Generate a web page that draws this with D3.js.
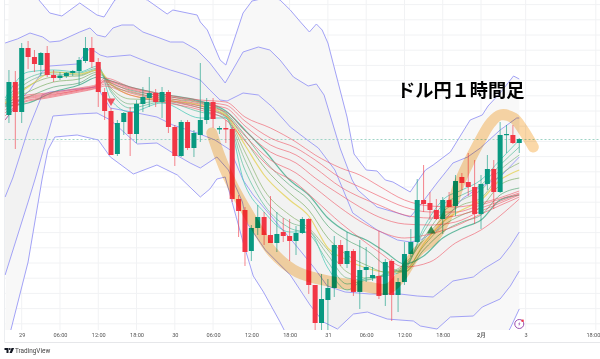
<!DOCTYPE html>
<html><head><meta charset="utf-8">
<script src="https://cdn.jsdelivr.net/npm/d3@7/dist/d3.min.js"></script>
<style>html,body{margin:0;padding:0;background:#fff}svg{display:block}</style>
</head><body><svg id="c" width="600" height="359"></svg>
<script>
// hours counted from the "29" tick; price in chart points above the plot floor
const hours = [-2,-1,0,1,2,3,4,5,6,7,8,9,10,11,12,13,14,15,16,17,18,19,20,21,22,23,24,25,26,27,28,29,30,31,32,33,34,35,36,37,38,39,40,41,42,43,44,45,46,47,48,49,50,51,52,53,54,55,56,57,58,59,60,61,62,63,64,65,66,67,68,69,70,71,72,73,74,75,76,77,78];
const opens = [215,248,218,282,273,265,277,255,252,254,257,259,269,282,268,238,219,176,208,218,196,226,232,237,228,238,203,174,208,182,195,210,228,200.5,202,201,131,120,79,102,113,95,87,98,94,89,97,111,45,7,30,42,85,66,79,38,60,52,54,35,69,35,48,76,88,130,127,120,111,130,124,153,148,143,116,146,161,138,195,195,187];
const closes = [248,218,282,273,266,277,255,252,254.5,257,259,270,282,268,238,219,175,207,217,196,226,233,237,228,238,203,174,208,182,197,210,228,211,202,200.5,131,119,78,102,113,95,87,96,94,89,97,111,45,7,31,42,85,66,79,38,60,63,55,34,68,35,48,76,88,130,126,120,111,130,123,149,147,143,116,146,161,138,195,196,187,191];
const highs = [260,259,287,289,280,278,284,260,258,258,260,273,293,293,272,242,222,210,218,223,230,243,253,241,243,240,205,210,210,200,267,232,232,204,210,203,135,123,105,125,118,134,118,112,111,104,113,112,45,56,51,94,90,98,81,90,83,63,99,71,71,52,88,101,151,165,138,131,133,138,155,157,177,170,155,175,170,208,205,205,192];
const lows = [207,181,207,261,258,254,253,248,250,252,254,245,267,262,223,210,175,174,195,174,187,218,223,223,212,197,164,173,180,173,188,206,202,196,187,128,93,64,69,95,85,87,78,88,69,75,96,36,0,0,0,33,64,62,34,21,48,49,31,24,9,18,45,73,87,118,110,110,96,123,114,140,134,106,101,140,121,137,177,186,177];

// Bollinger-style band lines, [hour, value]
const upper3 = [[-2,360],[1.3,345],[2.7,330],[4.4,317],[6.3,314],[9.1,327],[11.8,315],[12.9,313],[13.9,323],[14.6,330],[17,335],[19.7,330],[22.8,316],[23.7,320],[27.5,315],[28,308],[29.1,300],[31.1,270],[32,265],[34.7,317],[36.1,329],[38.9,333],[40.5,330],[42.1,320],[43.7,308],[45.1,298],[46.2,306],[47.1,300],[48,287],[51,213],[52.1,176],[54,160],[55.7,159],[57,150],[58.2,148],[60.9,138],[62.2,150],[63.3,160],[64.5,165],[67.2,178],[70.3,210],[72.2,215],[73.1,224],[75,237],[77.1,254],[78,251]];
const upper2 = [[-2.6,287],[-0.7,291],[1.3,297],[3.3,293],[4.4,288],[6,289],[9.1,298],[10.7,302],[11.8,295],[13.1,293],[14.3,302],[15.7,305],[17.5,305],[19,298],[21.2,293],[23.3,288],[25.3,288],[27.5,280],[29.5,267],[31.9,247],[34.7,278],[37.1,283],[38.9,280],[40.5,270],[42.6,253],[44.9,244],[46.2,246],[47.4,235],[49.9,182],[51.8,150],[52.7,140],[55.7,123],[58.9,117],[60.9,113],[62.5,125],[65.1,147],[67.6,167],[69.9,173],[71.9,182],[75,200],[77.6,212],[78,212]];
const upper1 = [[-2.6,210],[-0.3,230],[1.3,240],[3.2,258],[4.4,264],[8.7,266],[10.7,282],[12.3,275],[13.4,273],[17,275],[19.7,268],[23.3,260],[25.9,255],[28,250],[29.5,240],[31.1,230],[32.2,229],[34.7,237],[37.1,235],[39.3,223],[42.1,203],[45.2,188],[46.5,182],[49.1,160],[51.9,117],[55.7,100],[58.9,90],[60.9,88],[62.5,90],[65.1,100],[67.6,120],[69.2,132],[71.9,143],[75,153],[78,173]];
const lower1 = [[-2.6,133],[-1.4,152],[1,200],[3.2,235],[4.4,238],[11.8,243],[13.9,222],[18.1,217],[21.2,213],[23.7,205],[27.5,197],[30.3,190],[32.7,180],[34.7,150],[36.3,135],[40,107],[43.2,83],[46,61],[47.9,44],[50.7,38],[54.6,36],[59.3,36],[62,34],[64.5,33],[66.1,41],[67.6,49],[70.8,53],[72.4,61],[75,71],[76.6,84],[78,98]];
const lower2 = [[-2.6,55],[1,128],[2.1,151],[4.9,214],[8.7,216],[11.8,217],[13.9,210],[18.1,186],[21.2,187],[23.7,177],[26.4,167],[28,162],[30.6,173],[32.4,160],[34.6,128],[35.3,107],[38.2,80],[42.1,55],[45.2,25],[47.3,8],[49.5,1],[52,16],[54.2,18],[57.3,11],[59.3,10],[61.4,9],[62.5,4],[65.1,1],[67.2,13],[70.8,14],[72.2,23],[75,31],[76.6,44],[78,59]];
const lower3 = [[-2.6,-20],[-1.7,0],[1,68],[3.2,151],[4.1,180],[5.2,193],[8.7,195],[12,190],[13.9,173],[17.5,156],[21.2,165],[24.4,155],[28,133],[29.5,141],[30.6,151],[31.9,153],[34.7,88],[36.3,54],[37.9,38],[40.5,8],[41.3,-2],[48.4,-40],[59.3,-60],[71.9,-40],[75,-15],[76.6,2],[78,21]];

// long moving averages
const redHours = [-2.6,0,4,9,12,13,17,22,28,32,35,39,43,46,50,53,56,60,64,68,72,78];
const red1 = [226,234,237,242,246,252,243,236,230,228,213,202,188,175,162,155,144,130,124,123,127,139];
const red2 = [223,232,236,241,245,250,242,235,228,225,209,192,182,170,152,143,134,123,118,118,125,137];
const red3 = [220,231,235,240,245,249,241,233,226,222,204,185,175,162,143,133,125,115,112,114,122,136];
const red4 = [217,230,234,240,244,248,239,231,224,218,199,178,167,152,135,123,113,106,105,108,119,135];
const red5 = [214,228,233,239,243,246,237,230,222,214,194,170,157,142,122,109,99,92,96,104,116,133];
const red6 = [210,227,232,238,242,244,235,228,220,210,189,162,147,130,107,92,78,63,68,87,100,131];

// short moving averages
const shortHours = [-2.6,1,5,9,12,14,17,22,28,32,35,38,42,45,48,51,54,57,60,63,66,69,72,75,78];
const short1 = [232,258,260,258,264,230,218,227,212,212,145,118,98,98,62,40,52,54,60,102,130,140,150,170,190];
const short2 = [230,252,258,257,262,238,222,228,218,212,160,125,102,96,68,46,50,55,62,98,125,135,145,165,183];
const short3 = [229,248,256,255,261,240,226,229,222,213,170,132,108,100,75,52,50,56,64,92,118,130,140,160,175];
const short4 = [228,244,253,254,260,242,231,230,224,214,178,140,115,102,80,58,52,56,66,90,112,125,132,155,167];
const yellow = [227,243,258,256,260,246,235,230,225,215,185,155,130,114,82,70,62,58,58,86,108,120,130,150,160];
const short5 = [226,238,248,251,258,245,238,232,227,216,190,163,137,120,92,75,65,58,60,84,104,115,123,145,152];
const short6 = [225,233,243,247,256,247,240,234,228,217,195,170,145,130,104,90,80,65,58,80,98,108,115,135,142];
const short7 = [224,227,238,245,253,249,243,236,229,219,200,180,150,135,112,98,90,78,66,74,92,102,110,130,135];

// hand-drawn highlight stroke
const highlight = [[29.8,197],[31.1,173],[32.4,153],[33.9,134],[36.3,108],[39.3,78],[43.2,58],[48.8,48],[54.2,43],[57.3,41],[59.3,52],[62,78],[64.5,91],[67.2,121],[68.8,150],[71.9,190],[73.5,207],[75,215],[77.1,212],[78.6,200],[80.2,183]];

const tickHours = [0,6,12,18,24,30,36,42,48,54,60,66,72,79,90];
const tickLabels = ["29","06:00","12:00","18:00","30","06:00","12:00","18:00","31","06:00","12:00","18:00","2月","3","18:00"];
const gridValues = [325.4,310.2,295,279.8,264.6,249.4,234.2,219,203.8,188.6,173.4,158.2,143,127.8,112.6,97.4,82.2,67,51.8,36.6,21.4,6.2];
const lastPrice = 190.5;
const signalDown = {hour:14, value:229};
const signalUp = {hour:64.2, value:99};
const titleText = "ドル円１時間足";

const GREEN="#089981", RED="#F23645";
const svg = d3.select("#c");
const left = 4.5, bottom = 330;
const x = d3.scaleLinear().domain([0,72]).range([21.7,481]);
const y = d3.scaleLinear().domain([0,330]).range([bottom,0]);

svg.append("defs").append("clipPath").attr("id","plot").append("rect")
  .attr("x",left).attr("y",0).attr("width",600-left).attr("height",bottom);

// grid
const grid = svg.append("g").attr("stroke","#f1f2f4").attr("stroke-width",1);
grid.selectAll("line.h").data(gridValues).join("line").attr("class","h")
  .attr("x1",left).attr("x2",600).attr("y1",d=>y(d)).attr("y2",d=>y(d));
grid.selectAll("line.v").data(tickHours).join("line").attr("class","v")
  .attr("x1",d=>x(d)).attr("x2",d=>x(d)).attr("y1",0).attr("y2",bottom);
svg.append("line").attr("x1",left).attr("x2",left).attr("y1",0).attr("y2",342).attr("stroke","#eceef1");
svg.append("line").attr("x1",left).attr("x2",600).attr("y1",342.5).attr("y2",342.5).attr("stroke","#e6e7ea");

const plot = svg.append("g").attr("clip-path","url(#plot)");

// band fills
const pt = d3.line().x(d=>x(d[0])).y(d=>y(d[1]));
const poly = (a,b)=>pt(a.concat(b.slice().reverse()))+"Z";
plot.append("path").attr("d",poly(upper3,lower3)).attr("fill","#f8f8f8");
plot.append("path").attr("d",poly(upper2,lower2)).attr("fill","#f2f2f2");

plot.append("line").attr("x1",left).attr("x2",600).attr("y1",y(lastPrice)).attr("y2",y(lastPrice))
  .attr("stroke","#9fd4c6").attr("stroke-dasharray","2,2");

// band lines
plot.selectAll("path.band").data([upper3,upper2,upper1,lower1,lower2,lower3]).join("path")
  .attr("class","band").attr("d",pt).attr("fill","none").attr("stroke","#a2a2f6").attr("stroke-width",1);

// ribbons
const ribbon = hrs => d3.line().x((d,i)=>x(hrs[i])).y(d=>y(d)).curve(d3.curveMonotoneX);
const shorts = [
  [short1,"#45c9b5",1],[short2,"#5cc0a0",1],[short3,"#7fb98a",1],[short4,"#8fb573",1],
  [yellow,"#e3cf45",1.2],[short5,"#82b36e",1],[short6,"#62ad7e",1],[short7,"#2fa47f",1.2]];
plot.selectAll("path.short").data(shorts).join("path")
  .attr("class","short").attr("d",d=>ribbon(shortHours)(d[0])).attr("fill","none")
  .attr("stroke",d=>d[1]).attr("stroke-width",d=>d[2]).attr("stroke-opacity",.72);
plot.selectAll("path.red").data([red1,red2,red3,red4,red5,red6]).join("path")
  .attr("class","red").attr("d",ribbon(redHours)).attr("fill","none")
  .attr("stroke","#f0505e").attr("stroke-opacity",.58).attr("stroke-width",1);

// candles
const candles = hours.map((h,i)=>({h,o:opens[i],c:closes[i],hi:highs[i],lo:lows[i]}));
const cg = plot.selectAll("g.c").data(candles).join("g").attr("class","c");
const col = d=>d.c>=d.o?GREEN:RED;
cg.append("line").attr("x1",d=>x(d.h)).attr("x2",d=>x(d.h)).attr("y1",d=>y(d.hi)).attr("y2",d=>y(d.lo))
  .attr("stroke",col).attr("stroke-opacity",.6).attr("stroke-width",1);
cg.append("rect").attr("x",d=>x(d.h)-2.5).attr("width",5)
  .attr("y",d=>y(Math.max(d.o,d.c))).attr("height",d=>Math.max(1.2,Math.abs(y(d.o)-y(d.c))))
  .attr("fill",col);

// signals
const tri = d3.symbol().type(d3.symbolTriangle).size(32);
plot.append("path").attr("d",tri).attr("fill","#f0505e")
  .attr("transform",`translate(${x(signalDown.hour)},${y(signalDown.value)}) rotate(180)`);
plot.append("path").attr("d",tri).attr("fill","#3c8f55")
  .attr("transform",`translate(${x(signalUp.hour)},${y(signalUp.value)})`);

// highlight stroke
svg.append("path").attr("d",pt.curve(d3.curveCatmullRom)(highlight)).attr("fill","none")
  .attr("stroke","#fbd8a8").attr("stroke-width",11).attr("stroke-linecap","round").attr("stroke-linejoin","round")
  .style("mix-blend-mode","multiply");

// title
svg.append("text").attr("x",397).attr("y",97).text(titleText)
  .attr("font-family","'Noto Sans CJK JP'").attr("font-weight",700).attr("font-size",18.2).attr("fill","#000");

// axis
const axis = d3.axisBottom(x).tickValues(tickHours).tickFormat((d,i)=>tickLabels[i]).tickSize(0).tickPadding(3);
const ag = svg.append("g").attr("transform",`translate(0,${bottom})`).call(axis);
ag.select(".domain").remove();
ag.selectAll("text").attr("font-family","Roboto").attr("font-size",5.6).attr("fill","#555")
  .attr("font-weight",(d,i)=>tickLabels[i]==="2月"?700:400)
  .attr("text-anchor",(d,i)=>i===tickLabels.length-1?"end":"middle")
  .attr("dx",(d,i)=>i===tickLabels.length-1?4:0);

// small chart badge
const badge = svg.append("g").attr("transform",`translate(${x(78)},324)`);
badge.append("circle").attr("r",4.5).attr("fill","#fff").attr("stroke","#9c4fb0").attr("stroke-width",1);
badge.append("path").attr("d","M0.8,-2.5 L-1.2,0.3 L0,0.3 L-0.8,2.5 L1.2,-0.4 L0,-0.4 Z").attr("fill","#9c4fb0");
badge.append("rect").attr("x",2.2).attr("y",-4.4).attr("width",2.2).attr("height",2.2).attr("fill","#f23645");

// logo
const logo = svg.append("g").attr("transform","translate(4.5,348)").attr("fill","#131722");
logo.append("path").attr("d","M0,0H4V5H2V2H0Z");
logo.append("circle").attr("cx",5.3).attr("cy",1).attr("r",0.95);
logo.append("path").attr("d","M7,0H9.6L7.4,5H5Z");
svg.append("text").attr("x",15).attr("y",353.3).text("TradingView")
  .attr("font-family","Roboto").attr("font-size",6.4).attr("fill","#444");
</script></body></html>
